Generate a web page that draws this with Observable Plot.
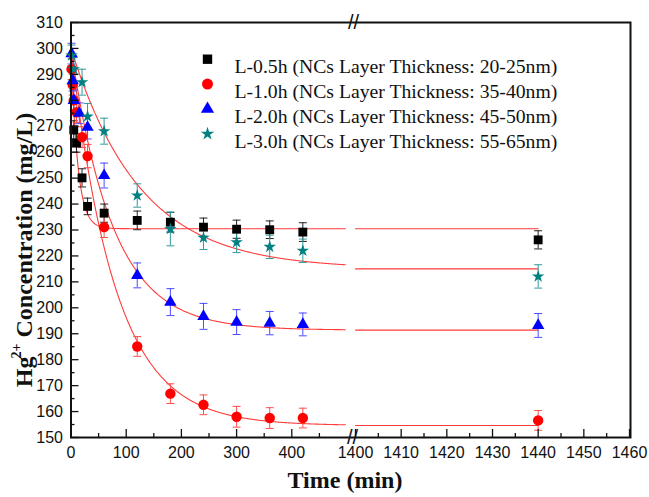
<!DOCTYPE html>
<html><head><meta charset="utf-8">
<script src="https://cdn.jsdelivr.net/npm/d3@7"></script>
<script src="https://cdn.jsdelivr.net/npm/@observablehq/plot@0.6"></script>
<style>body{margin:0;background:#fff;} #chart svg{display:block;}</style>
</head><body><div id="chart"></div>
<script>
// ---- data ----
const seriesNames = [
  "L-0.5h (NCs Layer Thickness: 20-25nm)",
  "L-1.0h (NCs Layer Thickness: 35-40nm)",
  "L-2.0h (NCs Layer Thickness: 45-50nm)",
  "L-3.0h (NCs Layer Thickness: 55-65nm)"
];
const timesBlack = [5, 10, 20, 30, 60, 120, 180, 240, 300, 360, 420, 1440];
const valuesBlack = [268.6, 263.5, 250.1, 239.1, 236.5, 233.7, 233.0, 231.1, 230.3, 230.1, 229.2, 226.2];
const errBlack = [3.5, 3.5, 3.5, 3.2, 3.5, 3.6, 3.8, 3.5, 3.5, 3.4, 3.6, 3.5];

const timesRed = [1, 3, 5, 10, 20, 30, 60, 120, 180, 240, 300, 360, 420, 1440];
const valuesRed = [292, 286, 280, 275.4, 265.8, 258.5, 231.1, 185.1, 166.9, 162.6, 158.0, 157.5, 157.5, 156.6];
const errRed = [4, 4, 4, 4, 4, 4.5, 4, 3.8, 3.8, 3.8, 4, 4, 3.8, 3.8];

const timesBlue = [1, 3, 5, 15, 30, 60, 120, 180, 240, 300, 360, 420, 1440];
const valuesBlue = [298, 287.6, 280, 275, 269.6, 251, 212.5, 202.2, 196.7, 194.5, 194.1, 193.6, 193.2];
const errBlue = [4, 4, 4, 4, 4.5, 4.8, 4.8, 5.2, 5, 4.8, 4.5, 4.4, 4.6];

const timesTeal = [1, 5, 20, 30, 60, 120, 180, 240, 300, 360, 420, 1440];
const valuesTeal = [297.3, 292, 287, 273.8, 268.1, 243.3, 230.4, 227.0, 225.3, 223.5, 222.0, 212.1];
const errTeal = [4, 4.5, 5, 5, 5, 4.5, 6.5, 4.5, 4, 4.5, 4.5, 4.5];

// fitted exponential decay parameters (C = Ce + (C0 - Ce) * exp(-t / tau))
const fitC0 = [300, 300, 300, 300];
const fitCe = [230.5, 154.6, 191.4, 215.0];
const fitTau = [12, 80, 76, 125];

const xTicksLeft = [0, 100, 200, 300, 400];
const xTicksRight = [1400, 1410, 1420, 1430, 1440, 1450, 1460];
const xMinorLeft = [50, 150, 250, 350, 450];
const xMinorRight = [1405, 1415, 1425, 1435, 1445, 1455];
const yTicks = [150, 160, 170, 180, 190, 200, 210, 220, 230, 240, 250, 260, 270, 280, 290, 300, 310];
const yMinor = [155, 165, 175, 185, 195, 205, 215, 225, 235, 245, 255, 265, 275, 285, 295, 305];

// ---- styling ----
const colors = ["#000000", "#ff0000", "#0000ff", "#008080"];
const errColors = ["#222222", "#ff4d4d", "#4d4dff", "#339999"];
const symbols = ["square", "circle", "triangle", "star"];
const radii = [5, 5.2, 4.6, 3.9];

const raw = [
  [timesBlack, valuesBlack, errBlack],
  [timesRed, valuesRed, errRed],
  [timesBlue, valuesBlue, errBlue],
  [timesTeal, valuesTeal, errTeal]
];
const points = raw.flatMap(([ts, vs, es], s) => ts.map((t, i) => ({s, t, v: vs[i], e: es[i]})));

// fit curves on each side of the axis break
const fitTimesLeft = d3.range(0, 498, 1);
const fitTimesRight = [1400, 1440];
const fits = [];
fitCe.forEach((ce, s) => {
  for (const [seg, ts] of [["L", fitTimesLeft], ["R", fitTimesRight]]) {
    ts.forEach(t => fits.push({s, seg: s + seg, t, v: ce + (fitC0[s] - ce) * Math.exp(-t / fitTau[s])}));
  }
});

const capSymbol = {draw(ctx) { ctx.moveTo(-4, 0); ctx.lineTo(4, 0); }};

const marks = [
  Plot.line(fits, {x: "t", y: "v", z: "seg", stroke: "#ff3b3b", strokeWidth: 1.1}),
];
for (let s = 0; s < 4; s++) {
  const d = points.filter(p => p.s === s);
  marks.push(
    Plot.ruleX(d, {x: "t", y1: p => p.v - p.e, y2: p => p.v + p.e, stroke: errColors[s], strokeWidth: 1}),
    Plot.dot(d, {x: "t", y: p => p.v + p.e, symbol: capSymbol, fill: "none", stroke: errColors[s], strokeWidth: 1}),
    Plot.dot(d, {x: "t", y: p => p.v - p.e, symbol: capSymbol, fill: "none", stroke: errColors[s], strokeWidth: 1})
  );
}
for (let s = 0; s < 4; s++) {
  const d = points.filter(p => p.s === s);
  marks.push(Plot.dot(d, {x: "t", y: "v", symbol: symbols[s], r: radii[s], fill: colors[s], stroke: "none"}));
}
// legend
seriesNames.forEach((name, s) => {
  marks.push(
    Plot.dot([name], {frameAnchor: "top-left", dx: 136.5, dy: 36.7 + s * 24.9, symbol: symbols[s], r: radii[s] + 0.3, fill: colors[s], stroke: "none"}),
    Plot.text([name], {frameAnchor: "top-left", dx: 163.5, dy: 36.7 + s * 24.9, text: d => d, textAnchor: "start", fontSize: 19.7, fontFamily: "Liberation Serif, Times New Roman, serif", fill: "#111"})
  );
});
// axes
const fmt = d => String(d);
marks.push(
  Plot.axisY(yTicks, {anchor: "left", label: null, tickSize: -8, tickPadding: 16, fontSize: 16, tickFormat: fmt, strokeWidth: 1.3}),
  Plot.axisY(yMinor, {anchor: "left", label: null, tickSize: -4, tickFormat: () => "", strokeWidth: 1.3}),
  Plot.axisX([...xTicksLeft, ...xTicksRight], {anchor: "bottom", label: null, tickSize: -8, tickPadding: 17, fontSize: 16, tickFormat: fmt, strokeWidth: 1.3}),
  Plot.axisX([...xMinorLeft, ...xMinorRight], {anchor: "bottom", label: null, tickSize: -4, tickFormat: () => "", strokeWidth: 1.3}),
  Plot.frame({stroke: "#111", strokeWidth: 2}),
  Plot.text(["//"], {frameAnchor: "top-left", dx: 277, dy: 0, fontSize: 20, fontFamily: "Liberation Sans, Arial", fill: "#111", lineAnchor: "middle"}),
  Plot.text(["//"], {frameAnchor: "bottom-left", dx: 276, dy: 0, fontSize: 20, fontFamily: "Liberation Sans, Arial", fill: "#111", lineAnchor: "middle"})
);

const svg = Plot.plot({
  width: 649,
  height: 497,
  marginLeft: 70.5,
  marginRight: 19,
  marginTop: 22,
  marginBottom: 60,
  style: {fontFamily: "Liberation Sans, Arial, sans-serif", color: "#111", background: "#fff"},
  x: {type: "linear", label: null, domain: [0, 500, 1400, 1460], range: [70.5, 346.5, 355, 629]},
  y: {type: "linear", label: null, domain: [150, 310], range: [437, 22]},
  marks
});

// axis titles
const sel = d3.select(svg);
sel.append("text")
  .attr("x", 345).attr("y", 488)
  .attr("text-anchor", "middle")
  .attr("font-family", "Liberation Serif, Times New Roman, serif")
  .attr("font-weight", "bold").attr("font-size", 24).attr("fill", "#111")
  .text("Time (min)");
const yt = sel.append("text")
  .attr("transform", "translate(32,250) rotate(-90)")
  .attr("text-anchor", "middle")
  .attr("font-family", "Liberation Serif, Times New Roman, serif")
  .attr("font-weight", "bold").attr("font-size", 24).attr("fill", "#111");
yt.append("tspan").text("Hg");
yt.append("tspan").attr("font-size", 14).attr("dy", -11).attr("dx", -2).text("2+");
yt.append("tspan").attr("dy", 11).text(" Concentration (mg/L)");

document.getElementById("chart").appendChild(svg);
</script>
</body></html>
